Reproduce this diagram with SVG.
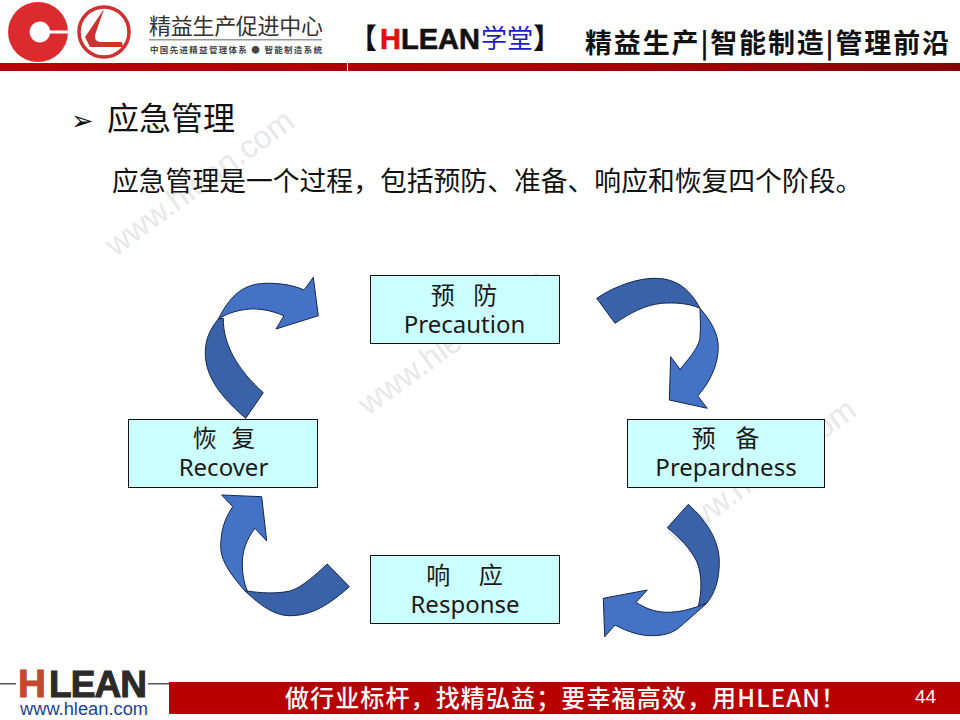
<svg xmlns="http://www.w3.org/2000/svg" width="960" height="720" viewBox="0 0 960 720">
<style>
.cjk{font-family:"Noto Sans CJK SC","Noto Sans",sans-serif}
.box{fill:#ccffff;stroke:#111;stroke-width:1}
.lb{font-family:"Noto Sans CJK SC","Noto Sans",sans-serif;font-size:24px;fill:#1a1a1a;text-anchor:middle}
.en{font-family:"Noto Sans","Noto Sans CJK SC",sans-serif;font-size:24px;fill:#1a1a1a;text-anchor:middle}
.wm{font-family:"Liberation Sans",sans-serif;font-size:32px;fill:#e8e8e8}
.dk{fill:#3a62a8;stroke:#14284f;stroke-width:1}
.lt{fill:#4472c4;stroke:#14284f;stroke-width:1}
</style>
<defs>
<linearGradient id="bar" x1="0" x2="1" y1="0" y2="0"><stop offset="0" stop-color="#b80000"/><stop offset="0.6" stop-color="#a80000"/><stop offset="1" stop-color="#850606"/></linearGradient>
</defs>
<rect width="960" height="720" fill="#fff"/>
<g id="watermarks">
<text class="wm" transform="translate(115 257) rotate(-36)">www.hlean.com</text>
<text class="wm" transform="translate(368 416) rotate(-36)">www.hlean.com</text>
<text class="wm" transform="translate(677 546) rotate(-36)">www.hlean.com</text>
</g>
<g id="header">
<circle cx="38" cy="32" r="30" fill="#dc2b2f"/>
<path d="M70 30.500H50V30A10 10 0 0 0 40 21.500A10.500 10.500 0 0 0 40 42.500A10 10 0 0 0 50 34V33.500H70Z" fill="#fff"/>
<circle cx="104" cy="32" r="25" fill="none" stroke="#cf3030" stroke-width="3.5"/>
<path d="M104 9 85 37 90 47H123L122 42H101Q94 42 95 35Z" fill="#cf3030"/>
<text class="cjk" x="149" y="34" font-size="22" fill="#333" textLength="174">精益生产促进中心</text>
<rect x="149" y="39" width="173" height="1.500" fill="#999"/>
<text class="cjk" x="150" y="53" font-size="8.500" font-weight="700" fill="#444" textLength="172">中国先进精益管理体系 ● 智能制造系统</text>
<text class="cjk" x="349" y="49" font-size="28" font-weight="900" fill="#111">【</text>
<text x="380" y="49" font-size="29" font-weight="700" font-family="Liberation Sans,sans-serif" stroke-width="0.600" stroke="#111" fill="#111"><tspan fill="#e01010" stroke="#e01010">H</tspan>LEAN</text>
<text class="cjk" x="481" y="48" font-size="26" fill="#1c1cc8">学堂</text>
<text class="cjk" x="533" y="49" font-size="28" font-weight="900" fill="#111">】</text>
<text class="cjk" x="585" y="53" font-size="27" font-weight="700" fill="#111" textLength="364">精益生产|智能制造|管理前沿</text>
<rect x="0" y="63" width="960" height="8" fill="url(#bar)"/>
<rect x="347" y="63" width="1" height="8" fill="#fff"/>
</g>
<g id="title">
<text x="71" y="130" font-size="27" font-family="DejaVu Sans,sans-serif" fill="#111">➢</text>
<text class="cjk" x="107" y="130" font-size="32" fill="#111">应急管理</text>
<text class="cjk" x="112" y="191" font-size="26.800" fill="#111">应急管理是一个过程，包括预防、准备、响应和恢复四个阶段。</text>
</g>
<g id="connectors">
<g id="arrow-top-left">
<path class="dk" d="M245.700 418.300C215 392 205 372 205.300 351.700C205.500 338 211 328 218.300 319L223.300 318.300C223 345 238 370 263.300 392.700Z"/>
<path class="lt" d="M218.300 319C232 292 246 284 265 283.300C280 283 293 285 304 290L313.300 277.300L318.300 315.700L276 329L284 315.700C270 310 259 308.500 250 309C238 310 228 313 218.300 319Z"/>
</g>
<g id="arrow-top-right">
<path class="dk" d="M596.700 298.300C618 284 640 278.300 655 278.300C678 278.300 691 291 700 308.300C688 303 675 302.500 661.700 303.300C645 305 630 313 615 323.300Z"/>
<path class="lt" d="M700 308.300C712 322 718.300 335 718.300 346.700C718.300 365 710 382 697.700 396L707.300 408.300L669.300 400L670.700 356.700L680 369.300C692 355 700 345 700 336.700C701 326 700 316 700 308.300Z"/>
</g>
<g id="arrow-bottom-right">
<path class="dk" d="M688.300 504.300C708 522 719.300 542 719.300 561.700C719.300 580 715 593 706.700 603.300L698.300 606.700C702 590 702 575 697 562C690 548 679 537 667.300 527.700Z"/>
<path class="lt" d="M706.700 603.300C692 609 680 612.300 666.700 612.300C654 612 645 608 636 602.300L647.300 590L603.300 598.300L604.700 636.700L615 625C628 632 640 635.700 651.700 635.700C664 635.700 672 633 678.300 628.300C688 620 697 612 706.700 603.300Z"/>
</g>
<g id="arrow-bottom-left">
<path class="dk" d="M349.300 586.700C330 604 312 615.700 290 615.700C274 615.700 260 605 245 591L247.300 591C260 593 276 594 290 591C303 587 315 575 327.300 564Z"/>
<path class="lt" d="M245 591C230 574 220.700 560 220.700 546.700C220.700 530 225 518 232.700 506.700L221.700 495L261.700 496.700L266.700 541L255 528.300C246 540 242 552 242.300 565C242.500 575 244 583 247.300 591Z"/>
</g>
</g>
<g id="node-precaution">
<rect class="box" x="370.500" y="275.500" width="189" height="68"/>
<text class="lb" x="464" y="304" word-spacing="13">预 防</text>
<text class="en" x="464.500" y="333">Precaution</text>
</g>
<g id="node-prepardness">
<rect class="box" x="627.500" y="419.500" width="197" height="68"/>
<text class="lb" x="725.500" y="447" word-spacing="14">预 备</text>
<text class="en" x="726" y="476">Prepardness</text>
</g>
<g id="node-response">
<rect class="box" x="370.500" y="555.500" width="189" height="68"/>
<text class="lb" x="464.500" y="584" word-spacing="23">响 应</text>
<text class="en" x="465" y="613">Response</text>
</g>
<g id="node-recover">
<rect class="box" x="128.500" y="419.500" width="189" height="68"/>
<text class="lb" x="224" y="447" word-spacing="9">恢 复</text>
<text class="en" x="223.500" y="476">Recover</text>
</g>
<g id="footer">
<rect x="0" y="683" width="16" height="1.500" fill="#555"/>
<rect x="148" y="683" width="21" height="1.500" fill="#555"/>
<text x="18" y="697" font-family="Liberation Sans,sans-serif" font-size="38" font-weight="700" fill="#c4482c" stroke="#c4482c" textLength="28" lengthAdjust="spacingAndGlyphs">H</text>
<text x="49" y="697" font-family="Liberation Sans,sans-serif" font-size="37" font-weight="700" fill="#2b2b2b" stroke="#2b2b2b" textLength="98">LEAN</text>
<text x="20" y="715" font-family="Liberation Sans,sans-serif" font-size="18.300" fill="#1f3f96">www.hlean.com</text>
<rect x="169" y="682" width="791" height="32" fill="#b80000"/>
<text class="cjk" x="285" y="707" font-size="24" font-weight="500" fill="#fff" textLength="560">做行业标杆，找精弘益；要幸福高效，用HLEAN！</text>
<text x="915" y="703" font-family="Liberation Sans,sans-serif" font-size="19" fill="#fff">44</text>
</g>
</svg>
